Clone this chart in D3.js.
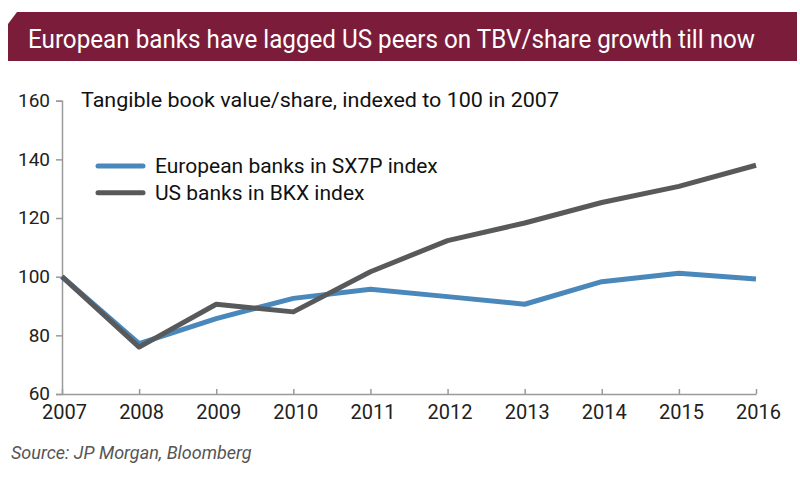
<!DOCTYPE html>
<html>
<head>
<meta charset="utf-8">
<script src="https://cdn.jsdelivr.net/npm/d3@7"></script>
<style>
	body { margin: 0; background: #fff; }
	text { font-family: Roboto, "Open Sans", sans-serif; }
</style>
</head>
<body>
<div id="chart"></div>
<script>
(function () {
	var w = 800
	var h = 478

	// data
	var years = [2007, 2008, 2009, 2010, 2011, 2012, 2013, 2014, 2015, 2016]
	var europe = [100, 77.2, 85.7, 92.6, 95.7, 93.2, 90.6, 98.3, 101.2, 99.2]
	var us = [100, 76.0, 90.6, 88.0, 101.7, 112.3, 118.3, 125.3, 130.8, 138.0]
	var yTicks = [60, 80, 100, 120, 140, 160]
	var seriesNames = ["European banks in SX7P index", "US banks in BKX index"]
	var seriesColors = ["#4a88bb", "#58595b"]

	var boundaries = {
		top: 100.7,
		bottom: 394,
		left: 62,
		right: 756
	}

	var svg = d3.select("#chart")
		.append("svg")
		.attr("width", w)
		.attr("height", h)

	// title banner with clipped corner
	svg.append("path")
		.attr("d", "M8,24 L17,12 L797,12 L797,61 L8,61 Z")
		.attr("fill", "#7b1c3a")

	svg.append("text")
		.attr("x", 28)
		.attr("y", 48)
		.attr("fill", "#fff")
		.style("font-size", "25px")
		.attr("textLength", 727)
		.attr("lengthAdjust", "spacingAndGlyphs")
		.text("European banks have lagged US peers on TBV/share growth till now")

	// scales
	var xScale = d3.scaleLinear()
		.domain([2007, 2016])
		.range([boundaries.left, boundaries.right])

	var yScale = d3.scaleLinear()
		.domain([60, 160])
		.range([boundaries.bottom, boundaries.top])

	// y axis
	var yAxis = d3.axisLeft(yScale)
		.tickValues(yTicks)
		.tickSize(6)
		.tickPadding(6)

	var gy = svg.append("g")
		.attr("transform", "translate(" + boundaries.left + ", 0)")
		.call(yAxis)
	gy.select(".domain").attr("stroke", "#9a9a9a").attr("stroke-width", 1.5)
	gy.selectAll(".tick line").attr("stroke", "#9a9a9a").attr("stroke-width", 1.5)
	gy.selectAll(".tick text")
		.attr("fill", "#222")
		.attr("dy", "0.3em")
		.style("font-size", "19px")
		.style("font-family", "Roboto, sans-serif")

	// x axis, ticks pointing up
	var xAxis = d3.axisBottom(xScale)
		.tickValues(years)
		.tickFormat(d3.format("d"))
		.tickSizeInner(-5)
		.tickSizeOuter(0)

	var gx = svg.append("g")
		.attr("transform", "translate(0, " + boundaries.bottom + ")")
		.call(xAxis)
	gx.select(".domain").attr("stroke", "#9a9a9a").attr("stroke-width", 1.5)
	gx.selectAll(".tick line").attr("stroke", "#9a9a9a").attr("stroke-width", 1.5)
	gx.selectAll(".tick text")
		.attr("fill", "#222")
		.attr("x", 2)
		.attr("y", 25)
		.attr("dy", 0)
		.style("font-size", "20px")
		.style("font-family", "Roboto, sans-serif")

	// subtitle
	svg.append("text")
		.attr("x", 81)
		.attr("y", 107)
		.attr("fill", "#111")
		.style("font-size", "20px")
		.attr("textLength", 478)
		.attr("lengthAdjust", "spacingAndGlyphs")
		.text("Tangible book value/share, indexed to 100 in 2007")

	// lines
	var line = d3.line()
		.x((d, i) => xScale(years[i]))
		.y(d => yScale(d))

	svg.append("path")
		.datum(europe)
		.attr("d", line)
		.attr("fill", "none")
		.attr("stroke", seriesColors[0])
		.attr("stroke-width", 5)
		.attr("stroke-linejoin", "round")

	svg.append("path")
		.datum(us)
		.attr("d", line)
		.attr("fill", "none")
		.attr("stroke", seriesColors[1])
		.attr("stroke-width", 5)
		.attr("stroke-linejoin", "round")

	// legend
	var legend = svg.selectAll(".legend")
		.data(seriesNames)
		.enter()
		.append("g").attr("class", "legend")
		.attr("transform", (d, i) => "translate(0, " + (166 + i * 26.7) + ")")

	legend.append("line")
		.attr("x1", 98)
		.attr("x2", 143)
		.attr("stroke", (d, i) => seriesColors[i])
		.attr("stroke-width", 5)
		.attr("stroke-linecap", "round")

	legend.append("text")
		.attr("x", 155)
		.attr("y", 7)
		.attr("fill", "#111")
		.style("font-size", "21px")
		.text(d => d)

	// source
	svg.append("text")
		.attr("x", 11)
		.attr("y", 459)
		.attr("fill", "#555")
		.style("font-size", "18px")
		.style("font-style", "italic")
		.text("Source: JP Morgan, Bloomberg")
})()
</script>
</body>
</html>
